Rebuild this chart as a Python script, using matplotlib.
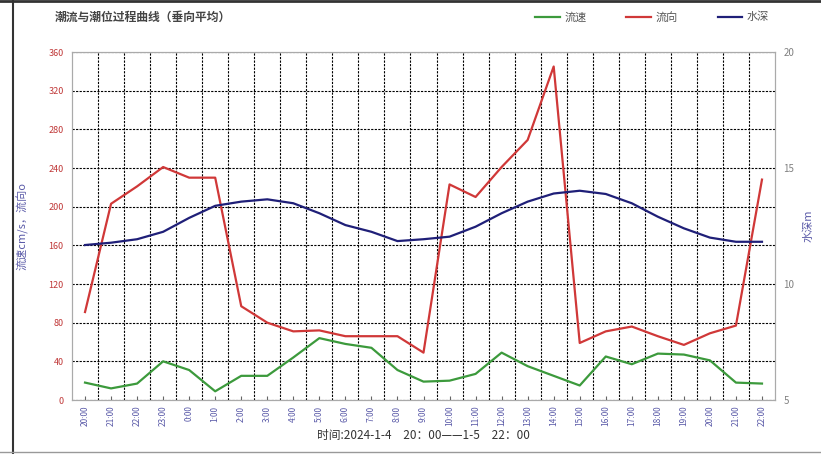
import matplotlib.pyplot as plt
from matplotlib.lines import Line2D
import numpy as np

plt.rcParams['font.family'] = ['Noto Sans CJK SC', 'DejaVu Sans']

# 时间刻度（2024-1-4 20:00 至 1-5 22:00）
hours = [20, 21, 22, 23] + list(range(0, 23))
tick_labels = [f"{h}:00" for h in hours]

# 流速 cm/s
speed = [18, 12, 17, 40, 31, 9, 25, 25, 44, 64, 58, 54, 31, 19,
         20, 27, 49, 35, 25, 15, 45, 37, 48, 47, 41, 18, 17]
# 流向 °
direction = [91, 203, 221, 241, 230, 230, 97, 80, 71, 72, 66, 66, 66, 49,
             223, 210, 241, 269, 345, 59, 71, 76, 66, 57, 69, 77, 228]
# 水深 m
depth = [11.68, 11.78, 11.93, 12.25, 12.85, 13.37, 13.55, 13.65, 13.48, 13.05,
         12.54, 12.25, 11.85, 11.93, 12.04, 12.47, 13.05, 13.55, 13.9, 14.02,
         13.88, 13.48, 12.9, 12.4, 12.0, 11.82, 11.82]

x = np.arange(len(hours))

fig = plt.figure(figsize=(8.21, 4.54), dpi=100)
ax = fig.add_axes([72 / 821, 54 / 454, 703 / 821, 348 / 454])
ax2 = ax.twinx()

ax.set_xlim(-0.5, len(hours) - 0.5)
ax.set_ylim(0, 360)
ax2.set_ylim(5, 20)

# 网格
grid_style = dict(color='black', linestyle=(0, (2, 1.2)), linewidth=0.8)
ax.set_yticks(np.arange(0, 361, 40))
ax.set_xticks(x)
ax.set_xticks(np.arange(0.5, len(hours) - 1, 1), minor=True)
ax.grid(which='minor', axis='x', **grid_style)
ax.grid(which='major', axis='y', **grid_style)
ax.set_axisbelow(True)

ax.plot(x, speed, color='#3c9a3c', lw=1.6, label='流速')
ax.plot(x, direction, color='#d03838', lw=1.6, label='流向')
ax2.plot(x, depth, color='#1f1f78', lw=1.6, label='水深')

# 刻度
ax.set_xticklabels(tick_labels, rotation=90, fontsize=6, color='#5a5aa8')
ax.tick_params(axis='x', which='major', direction='in', length=3, color='#666666', pad=4)
ax.tick_params(axis='x', which='minor', length=0)
ax.tick_params(axis='y', labelsize=6.5, labelcolor='#c03838', length=0, pad=6)
ax2.set_yticks([5, 10, 15, 20])
ax2.tick_params(axis='y', labelsize=7, labelcolor='#808080', length=0, pad=6)

for a in (ax, ax2):
    for s in a.spines.values():
        s.set_color('#aaaaaa')
        s.set_linewidth(0.8)

ax.set_ylabel('流速cm/s，流向o', color='#5a5aa8', fontsize=8, labelpad=14)
ax2.set_ylabel('水深m', color='#5a5aa8', fontsize=8, labelpad=6)
ax.set_xlabel('时间:2024-1-4　20：00——1-5　22：00', fontsize=8.5, color='#333333', labelpad=2)

fig.text(55 / 821, 1 - 17 / 454, '潮流与潮位过程曲线（垂向平均）', fontsize=8.5,
         fontweight='bold', color='#444444', va='center', ha='left')

handles = [Line2D([], [], color='#3c9a3c', lw=1.6),
           Line2D([], [], color='#d03838', lw=1.6),
           Line2D([], [], color='#1f1f78', lw=1.6)]
fig.legend(handles, ['流速', '流向', '水深'], loc='center', ncol=3, frameon=False,
           bbox_to_anchor=(652 / 821, 1 - 17 / 454), fontsize=8, handlelength=2.2,
           handletextpad=0.4, columnspacing=3.6, labelcolor='#555555')

# 外框
fig.add_artist(Line2D([13 / 821, 13 / 821], [0, 1], color='#333333', lw=1.5))
fig.add_artist(Line2D([0, 1], [1 - 1 / 454, 1 - 1 / 454], color='#333333', lw=2))
fig.add_artist(Line2D([0, 1], [1 - 452 / 454, 1 - 452 / 454], color='#999999', lw=1))

fig.savefig('out.png', dpi=100)
